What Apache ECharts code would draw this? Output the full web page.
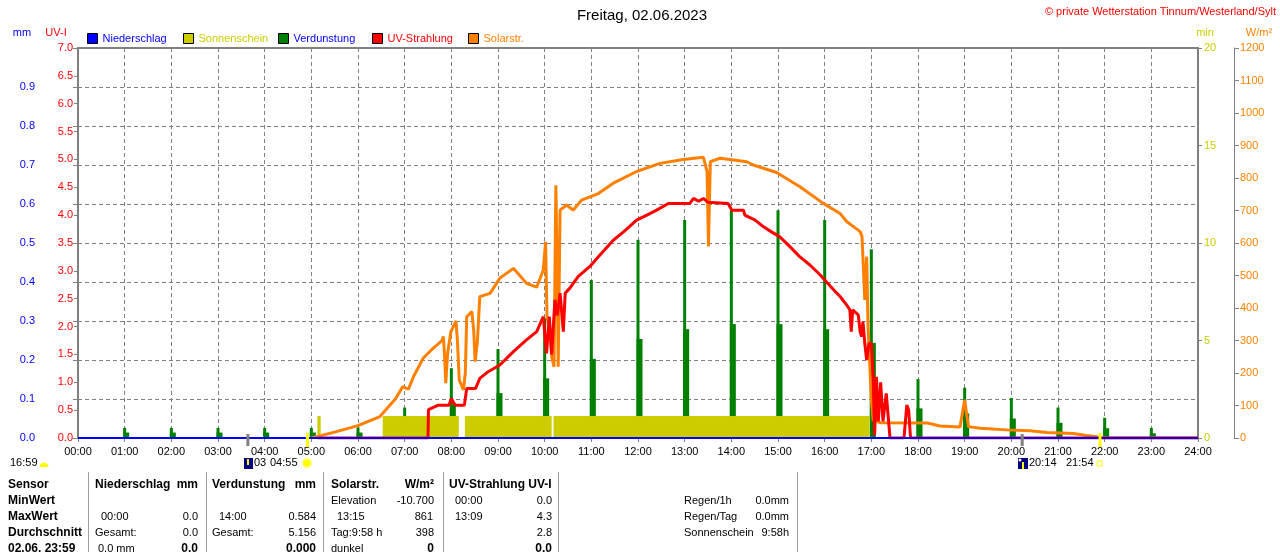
<!DOCTYPE html>
<html>
<head>
<meta charset="utf-8">
<title>Freitag, 02.06.2023</title>
<script src="https://cdn.jsdelivr.net/npm/echarts@6/dist/echarts.min.js"></script>
<style>
  html, body { margin: 0; padding: 0; background: #fff; }
  #chart { width: 1280px; height: 552px; }
</style>
</head>
<body>
<div id="chart"></div>
<script>
// x-Achse: Stunden 0..24
const xTickLabels = ['00:00', '01:00', '02:00', '03:00', '04:00', '05:00', '06:00', '07:00', '08:00',
  '09:00', '10:00', '11:00', '12:00', '13:00', '14:00', '15:00', '16:00', '17:00', '18:00',
  '19:00', '20:00', '21:00', '22:00', '23:00', '24:00'];

// Niederschlag (mm) - den ganzen Tag 0
const rainData = [[0, 0], [24, 0]];

// Sonnenschein (min), Abschnitte mit Sonne
const sunStart = [5.13, 6.53, 8.29, 10.19];
const sunEnd = [5.2, 8.16, 10.15, 16.96];
const sunValue = 1.1;

// Verdunstung (mm) je Stunde
const evapHour = [1, 2, 3, 4, 5, 6, 7, 8, 9, 10, 11, 12, 13, 14, 15, 16, 17, 18, 19, 20, 21, 22, 23];
const evapMax = [0.026, 0.026, 0.026, 0.026, 0.026, 0.027, 0.078, 0.179, 0.228, 0.307, 0.405, 0.508,
  0.559, 0.584, 0.584, 0.559, 0.484, 0.151, 0.129, 0.103, 0.078, 0.052, 0.026];
const evapHalf = [0.014, 0.014, 0.014, 0.014, 0.014, 0.014, 0.038, 0.09, 0.115, 0.153, 0.203, 0.254,
  0.279, 0.292, 0.292, 0.279, 0.244, 0.076, 0.063, 0.05, 0.039, 0.025, 0.012];

// UV-Strahlung (UV-I) [Stunde, Wert]
const uvData = [[5.14, 0], [7.5, 0], [7.51, 0.51], [7.72, 0.59], [7.95, 0.59], [8.0, 0.71], [8.08, 0.59],
  [8.28, 0.59], [8.33, 0.89], [8.52, 0.89], [8.61, 1.07], [8.79, 1.19], [9.04, 1.31], [9.33, 1.55],
  [9.61, 1.76], [9.83, 1.91], [9.97, 2.18], [10.04, 1.52], [10.1, 2.18], [10.15, 1.5], [10.22, 2.48],
  [10.27, 2.2], [10.33, 2.6], [10.4, 1.91], [10.44, 2.6], [10.54, 2.69], [10.72, 2.9], [10.97, 3.08],
  [11.18, 3.28], [11.47, 3.55], [11.69, 3.7], [11.97, 3.91], [12.19, 4.0], [12.4, 4.09], [12.65, 4.21],
  [13.11, 4.21], [13.19, 4.3], [13.3, 4.25], [13.4, 4.3], [13.5, 4.23], [13.93, 4.21], [14.01, 4.09],
  [14.26, 4.09], [14.29, 4.0], [14.51, 3.91], [14.69, 3.79], [14.86, 3.7], [15.04, 3.61], [15.26, 3.43],
  [15.47, 3.25], [15.69, 3.1], [15.9, 2.93], [16.04, 2.8], [16.26, 2.6], [16.33, 2.54], [16.47, 2.39],
  [16.54, 2.3], [16.57, 1.91], [16.6, 2.3], [16.72, 2.21], [16.76, 1.91], [16.79, 1.82], [16.82, 2.09],
  [16.86, 1.7], [16.9, 1.4], [16.95, 1.7], [17.0, 1.7], [17.04, 1.1], [17.07, 0.05], [17.11, 1.1],
  [17.15, 0.3], [17.2, 1.0], [17.25, 0.3], [17.32, 0.8], [17.36, 0.8], [17.4, 0], [17.7, 0],
  [17.76, 0.59], [17.8, 0.5], [17.84, 0], [24, 0]];

// Solarstrahlung (W/m²) [Stunde, Wert]
const solarData = [[5.0, 0], [5.04, 6], [5.5, 18], [6.0, 38], [6.47, 66], [6.8, 120], [6.96, 158],
  [7.08, 150], [7.19, 189], [7.4, 246], [7.6, 275], [7.69, 286], [7.8, 300], [7.83, 312], [7.86, 240],
  [7.88, 169], [7.92, 260], [7.99, 327], [8.1, 360], [8.13, 300], [8.17, 178], [8.26, 148], [8.3, 200],
  [8.33, 373], [8.44, 389], [8.48, 330], [8.51, 235], [8.56, 300], [8.61, 435], [8.83, 445], [9.04, 492],
  [9.33, 522], [9.61, 476], [9.83, 464], [9.97, 517], [10.02, 604], [10.05, 373], [10.12, 320],
  [10.15, 250], [10.2, 219], [10.24, 778], [10.27, 500], [10.29, 219], [10.33, 701], [10.47, 717],
  [10.61, 701], [10.79, 732], [10.97, 742], [11.15, 752], [11.47, 784], [11.97, 820], [12.47, 845],
  [12.97, 857], [13.4, 864], [13.48, 820], [13.51, 589], [13.55, 850], [13.76, 861], [14.33, 850],
  [14.47, 840], [14.97, 817], [15.47, 773], [15.97, 722], [16.33, 691], [16.47, 666], [16.76, 635],
  [16.8, 620], [16.86, 425], [16.9, 558], [16.93, 342], [17.0, 117], [17.04, 55], [17.2, 47], [18.2, 46],
  [18.47, 37], [18.9, 34], [19.0, 117], [19.08, 35], [19.33, 30], [19.9, 25], [20.4, 22], [20.76, 17],
  [21.33, 14], [21.61, 8], [21.83, 4], [21.9, 0], [24, 0]];

// Mond- und Sonnenzeiten unter der Achse
const moonTimes = [3.64, 20.233];
const sunTimes = [4.917, 21.9];

const FONT = '"Liberation Sans", Arial, sans-serif';
const GRAY = '#808080';

const sunshineSeriesData = [];
sunStart.forEach((s, i) => {
  sunshineSeriesData.push([s, sunValue], [sunEnd[i], sunValue], [sunEnd[i], null]);
});

const legendNames = ['Niederschlag', 'Sonnenschein', 'Verdunstung', 'UV-Strahlung', 'Solarstr.'];
const legendTextColors = ['#0000ff', '#cccc00', '#0000ff', '#ff0000', '#ff8000'];
const legendLeft = [87, 183, 278, 372, 468];

const chart = echarts.init(document.getElementById('chart'));

const option = {
  animation: false,
  backgroundColor: '#fff',
  textStyle: { fontFamily: FONT },
  legend: legendNames.map((n, i) => ({
    left: legendLeft[i],
    top: 33,
    padding: 0,
    itemWidth: 10,
    itemHeight: 10,
    itemGap: 0,
    icon: 'rect',
    selectedMode: false,
    itemStyle: { borderColor: '#000', borderWidth: 1 },
    textStyle: { fontSize: 11, fontFamily: FONT },
    data: [{ name: n, textStyle: { color: legendTextColors[i] } }]
  })),
  grid: {
    left: 78, right: 82, top: 48, bottom: 114,
    show: true, borderColor: GRAY, borderWidth: 2,
    outerBoundsMode: 'none'
  },
  xAxis: {
    type: 'value', min: 0, max: 24, interval: 1,
    axisLine: { show: true, onZero: false, lineStyle: { color: GRAY, width: 1 } },
    axisTick: { show: true, length: 4, lineStyle: { color: GRAY } },
    axisLabel: {
      color: '#000', fontSize: 11, margin: 8, showMinLabel: true, showMaxLabel: true,
      formatter: v => xTickLabels[Math.round(v)]
    },
    splitLine: { show: true, lineStyle: { color: GRAY, type: [4, 3], width: 1 } }
  },
  yAxis: [
    {
      type: 'value', position: 'left', offset: 37, min: 0, max: 1, interval: 0.1,
      axisLine: { show: true, lineStyle: { color: GRAY, width: 1 } },
      axisTick: { show: true, length: 5, lineStyle: { color: GRAY } },
      axisLabel: { color: '#0000ff', fontSize: 11, margin: 6, formatter: v => v > 0.95 ? '' : v.toFixed(1) },
      splitLine: { show: true, lineStyle: { color: GRAY, type: [4, 3], width: 1 } }
    },
    {
      type: 'value', position: 'left', offset: 0, min: 0, max: 7, interval: 0.5,
      axisLine: { show: true, lineStyle: { color: GRAY, width: 2 } },
      axisTick: { show: true, length: 4, lineStyle: { color: GRAY } },
      axisLabel: { color: '#ff0000', fontSize: 11, margin: 5, formatter: v => v.toFixed(1) },
      splitLine: { show: false }
    },
    {
      type: 'value', position: 'right', offset: 0, min: 0, max: 20, interval: 5,
      axisLine: { show: true, lineStyle: { color: GRAY, width: 2 } },
      axisTick: { show: true, length: 4, lineStyle: { color: GRAY } },
      axisLabel: { color: '#cccc00', fontSize: 11, margin: 6, formatter: v => String(v) },
      splitLine: { show: false }
    },
    {
      type: 'value', position: 'right', offset: 36, min: 0, max: 1200, interval: 100,
      axisLine: { show: true, lineStyle: { color: GRAY, width: 1 } },
      axisTick: { show: true, length: 5, lineStyle: { color: GRAY } },
      axisLabel: { color: '#ff8000', fontSize: 11, margin: 6, formatter: v => String(v) },
      splitLine: { show: false }
    }
  ],
  series: [
    {
      name: 'Sonnenschein', type: 'line', yAxisIndex: 2, data: sunshineSeriesData,
      symbol: 'none', connectNulls: false,
      itemStyle: { color: '#cccc00' },
      lineStyle: { color: '#cccc00', width: 1 },
      areaStyle: { color: '#cccc00', opacity: 1 }
    },
    {
      name: 'Solarstr.', type: 'line', yAxisIndex: 3, data: solarData, symbol: 'none',
      itemStyle: { color: '#ff8000' }, lineStyle: { color: '#ff8000', width: 3 }
    },
    {
      name: 'UV-Strahlung', type: 'line', yAxisIndex: 1, data: uvData, symbol: 'none',
      itemStyle: { color: '#ff0000' }, lineStyle: { color: '#ff0000', width: 3 }
    },
    {
      name: 'Verdunstung', type: 'bar', yAxisIndex: 0, barWidth: 6, barGap: '-100%',
      data: evapHour.map((h, i) => [h, evapHalf[i]]),
      itemStyle: { color: '#008000' }
    },
    {
      name: 'Verdunstung', type: 'bar', yAxisIndex: 0, barWidth: 3, barGap: '-100%',
      data: evapHour.map((h, i) => [h, evapMax[i]]),
      itemStyle: { color: '#008000' }
    },
    {
      name: 'Niederschlag', type: 'line', yAxisIndex: 0, data: rainData, symbol: 'none',
      itemStyle: { color: '#0000ff' }, lineStyle: { color: '#0000ff', width: 2 }
    }
  ]
};

chart.setOption(option);

// --- Beschriftungen, Tabelle ---
function txt(x, y, text, color, opts) {
  opts = opts || {};
  return {
    type: 'text', x: x, y: y, silent: true, z: 100,
    style: {
      text: text, fill: color || '#000',
      font: (opts.bold ? 'bold ' : '') + (opts.size || 11) + 'px ' + FONT,
      textAlign: opts.align || 'left', textVerticalAlign: 'middle'
    }
  };
}
function vline(x, y1, y2, color, w) {
  return {
    type: 'line', silent: true, z: 100,
    shape: { x1: x, y1: y1, x2: x, y2: y2 },
    style: { stroke: color, lineWidth: w || 1 }
  };
}

const g = [];
g.push(txt(642, 16, 'Freitag, 02.06.2023', '#000', { size: 15, align: 'center' }));
g.push(txt(1276, 12, '© private Wetterstation Tinnum/Westerland/Sylt', '#ff0000', { align: 'right' }));
g.push(txt(22, 33, 'mm', '#0000ff', { align: 'center' }));
g.push(txt(56, 33, 'UV-I', '#ff0000', { align: 'center' }));
g.push(txt(1205, 33, 'min', '#cccc00', { align: 'center' }));
g.push(txt(1259, 33, 'W/m²', '#ff8000', { align: 'center' }));

// Markierungen unter der Zeitachse
moonTimes.forEach(t => {
  const p = chart.convertToPixel({ gridIndex: 0 }, [t, 0]);
  g.push(vline(p[0], p[1] - 4, p[1] + 8, GRAY, 3));
});
sunTimes.forEach(t => {
  const p = chart.convertToPixel({ gridIndex: 0 }, [t, 0]);
  g.push(vline(p[0], p[1] - 5, p[1] + 9, '#ffff00', 3));
});

// Sonnen-/Mondzeile
g.push(txt(10, 463, '16:59', '#000'));
g.push({ type: 'sector', silent: true, z: 100, shape: { cx: 44, cy: 467, r: 4.5, r0: 0, startAngle: Math.PI, endAngle: Math.PI * 2, clockwise: true }, style: { fill: '#ffff00' } });
g.push({ type: 'rect', silent: true, z: 100, shape: { x: 244, y: 458, width: 9, height: 11 }, style: { fill: '#000080' } });
g.push({ type: 'rect', silent: true, z: 101, shape: { x: 247, y: 459, width: 2, height: 6 }, style: { fill: '#ffff00' } });
g.push(txt(254, 463, '03', '#000'));
g.push(txt(270, 463, '04:55', '#000'));
g.push({ type: 'circle', silent: true, z: 100, shape: { cx: 307, cy: 463, r: 4.5 }, style: { fill: '#ffff00', stroke: '#ffff99', lineWidth: 1.5 } });
g.push({ type: 'rect', silent: true, z: 100, shape: { x: 1018, y: 458, width: 10, height: 11 }, style: { fill: '#000080' } });
g.push({ type: 'circle', silent: true, z: 101, shape: { cx: 1020, cy: 460, r: 1.5 }, style: { fill: '#ffffff' } });
g.push({ type: 'rect', silent: true, z: 101, shape: { x: 1022, y: 462, width: 2, height: 7 }, style: { fill: '#ffff00' } });
g.push(txt(1029, 463, '20:14', '#000'));
g.push(txt(1066, 463, '21:54', '#000'));
g.push({ type: 'rect', silent: true, z: 100, shape: { x: 1097, y: 461, width: 5, height: 5 }, style: { fill: 'none', stroke: '#ffff00', lineWidth: 1 } });

// Tabelle
const rowY = [485, 501, 517, 533, 549];
[88, 206, 323, 443, 558, 797].forEach(x => g.push(vline(x + 0.5, 472, 552, '#a0a0a0', 1)));

const tableCells = [
  // [x, zeile, text, ausrichtung, fett]
  [8, 0, 'Sensor', 'left', true],
  [8, 1, 'MinWert', 'left', true],
  [8, 2, 'MaxWert', 'left', true],
  [8, 3, 'Durchschnitt', 'left', true],
  [8, 4, '02.06. 23:59', 'left', true],
  [95, 0, 'Niederschlag', 'left', true],
  [198, 0, 'mm', 'right', true],
  [101, 2, '00:00', 'left', false],
  [198, 2, '0.0', 'right', false],
  [95, 3, 'Gesamt:', 'left', false],
  [198, 3, '0.0', 'right', false],
  [98, 4, '0.0 mm', 'left', false],
  [198, 4, '0.0', 'right', true],
  [212, 0, 'Verdunstung', 'left', true],
  [316, 0, 'mm', 'right', true],
  [219, 2, '14:00', 'left', false],
  [316, 2, '0.584', 'right', false],
  [212, 3, 'Gesamt:', 'left', false],
  [316, 3, '5.156', 'right', false],
  [316, 4, '0.000', 'right', true],
  [331, 0, 'Solarstr.', 'left', true],
  [434, 0, 'W/m²', 'right', true],
  [331, 1, 'Elevation', 'left', false],
  [434, 1, '-10.700', 'right', false],
  [337, 2, '13:15', 'left', false],
  [433, 2, '861', 'right', false],
  [331, 3, 'Tag:9:58 h', 'left', false],
  [434, 3, '398', 'right', false],
  [331, 4, 'dunkel', 'left', false],
  [434, 4, '0', 'right', true],
  [449, 0, 'UV-Strahlung UV-I', 'left', true],
  [455, 1, '00:00', 'left', false],
  [552, 1, '0.0', 'right', false],
  [455, 2, '13:09', 'left', false],
  [552, 2, '4.3', 'right', false],
  [552, 3, '2.8', 'right', false],
  [552, 4, '0.0', 'right', true],
  [684, 1, 'Regen/1h', 'left', false],
  [789, 1, '0.0mm', 'right', false],
  [684, 2, 'Regen/Tag', 'left', false],
  [789, 2, '0.0mm', 'right', false],
  [684, 3, 'Sonnenschein', 'left', false],
  [789, 3, '9:58h', 'right', false]
];
tableCells.forEach(c => {
  g.push(txt(c[0], rowY[c[1]], c[2], '#000', { align: c[3], bold: c[4], size: c[4] ? 12 : 11 }));
});

chart.setOption({ graphic: g });
</script>
</body>
</html>
